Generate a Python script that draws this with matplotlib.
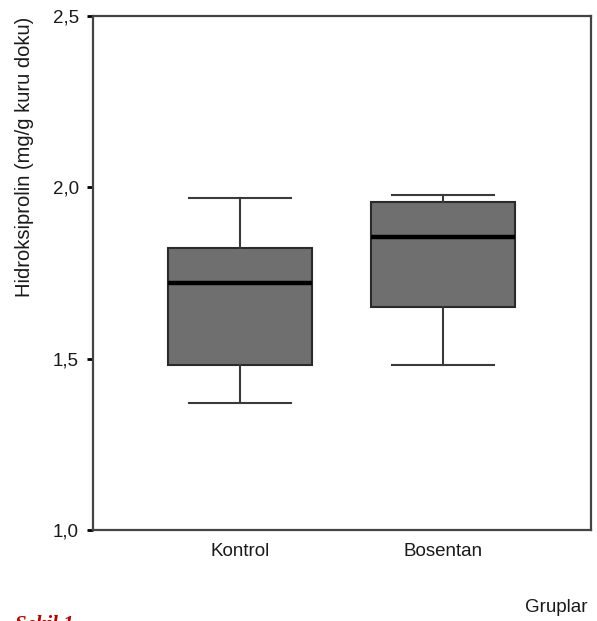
import matplotlib
matplotlib.use("Agg")
import matplotlib.pyplot as plt

categories = ["Kontrol", "Bosentan"]
whisker_low = [1.371, 1.482]
q1 = [1.482, 1.651]
median = [1.721, 1.855]
q3 = [1.823, 1.957]
whisker_high = [1.969, 1.978]
yticks = [1.0, 1.5, 2.0, 2.5]
ytick_labels = ["1,0", "1,5", "2,0", "2,5"]

plt.rcParams['font.family'] = ['Liberation Sans', 'DejaVu Sans']

fig = plt.figure(figsize=(5.97, 6.21), dpi=100)
ax = fig.add_axes([93/597, 1-530/621, (591-93)/597, (530-16)/621])

stats = []
for i, c in enumerate(categories):
    stats.append(dict(label=c, whislo=whisker_low[i], q1=q1[i], med=median[i],
                      q3=q3[i], whishi=whisker_high[i], fliers=[]))

ax.bxp(stats, positions=[1, 2], widths=0.714, capwidths=0.50, showfliers=False,
       patch_artist=True,
       boxprops=dict(facecolor='#6f6f6f', edgecolor='#2a2a2a', linewidth=1.5),
       medianprops=dict(color='black', linewidth=3.2),
       whiskerprops=dict(color='#3a3a3a', linewidth=1.5),
       capprops=dict(color='#3a3a3a', linewidth=1.5))

ax.set_xlim(0.276, 2.729)
ax.set_ylim(1.0, 2.5)
ax.set_yticks(yticks)
ax.set_yticklabels(ytick_labels, fontsize=13.5, color='#1a1a1a')
ax.tick_params(axis='y', direction='out', length=4, width=2, color='black', pad=6)
ax.tick_params(axis='x', length=0, pad=9, labelsize=13.5, labelcolor='#1a1a1a')
for s in ax.spines.values():
    s.set_color('#444')
    s.set_linewidth(1.6)

fig.text(25/597, 1-157/621, "Hidroksiprolin (mg/g kuru doku)", fontsize=14.5,
         color='#1a1a1a', rotation=90, ha='center', va='center')

fig.text(587/597, 1-608/621, "Gruplar", fontsize=13.5, color='#1a1a1a', ha='right', va='center')
fig.text(15/597, 1-630/621, "Şekil 1.", fontsize=15, color='#c00000', fontweight='bold',
         fontstyle='italic', family='Liberation Serif', ha='left', va='baseline')

fig.savefig("out.png", dpi=100)
